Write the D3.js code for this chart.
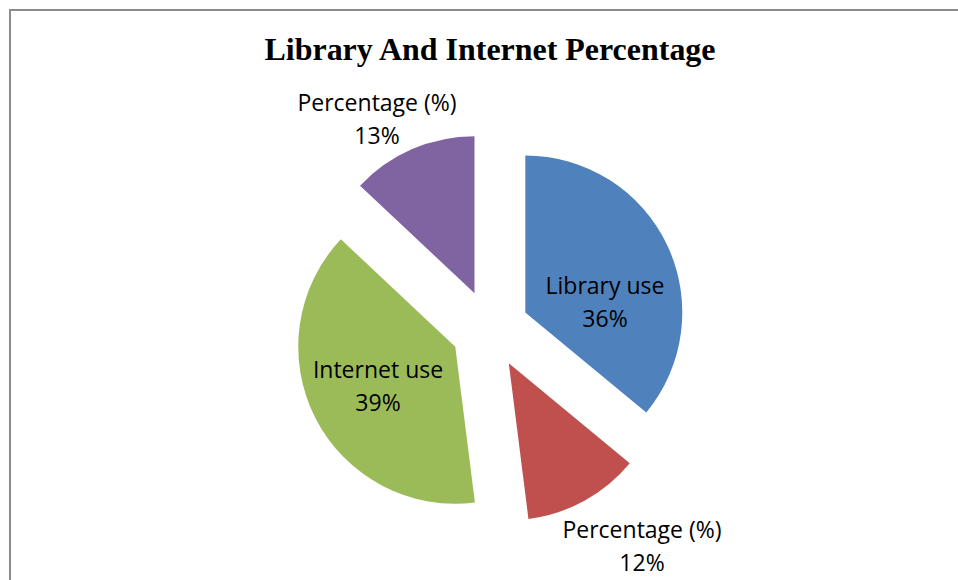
<!DOCTYPE html>
<html><head><meta charset="utf-8">
<script src="https://cdn.jsdelivr.net/npm/d3@7"></script>
<style>body{margin:0;background:#fff}svg{display:block}</style>
</head><body>
<svg id="c" width="958" height="580"></svg>
<script>
const categories = ["Library use", "Percentage (%)", "Internet use", "Percentage (%)"];
const values = [36, 12, 39, 13];
const colors = ["#4F81BD", "#C0504D", "#9BBB59", "#8064A2"];
const title = "Library And Internet Percentage";

const W = 958, H = 580;
const cx = 490, cy = 329, R = 157, explode = 39;
// label centre positions (layout, not data)
const labelPos = [[605, 294], [642, 538], [378, 378], [377, 111]];
const lineGap = 32.5;

const svg = d3.select("#c");
svg.append("rect").attr("x", 0).attr("y", 0).attr("width", W).attr("height", H).attr("fill", "#fff");
// frame
svg.append("path").attr("d", `M10,${H} L10,10 L${W},10`).attr("fill", "none").attr("stroke", "#8c8c8c").attr("stroke-width", 2);

svg.append("text").attr("x", 490).attr("y", 60).attr("text-anchor", "middle")
  .attr("font-family", "Liberation Serif, Times New Roman, serif").attr("font-weight", "bold")
  .attr("font-size", 32).attr("textLength", 451).attr("lengthAdjust", "spacingAndGlyphs").text(title);

const pie = d3.pie().sort(null).value(d => d)(values);
const arc = d3.arc().innerRadius(0).outerRadius(R);
const g = svg.append("g").attr("transform", `translate(${cx},${cy})`);
g.selectAll("path").data(pie).join("path")
  .attr("d", arc)
  .attr("fill", (d, i) => colors[i])
  .attr("transform", d => {
    const a = (d.startAngle + d.endAngle) / 2;
    return `translate(${explode * Math.sin(a)},${-explode * Math.cos(a)})`;
  });

const fmt = d3.format(".0f");
const lbl = svg.append("g").attr("font-family", "Open Sans, Noto Sans, sans-serif").attr("font-size", 23).attr("fill", "#000").attr("text-anchor", "middle");
pie.forEach((d, i) => {
  const [x, y] = labelPos[i];
  lbl.append("text").attr("x", x).attr("y", y).text(categories[i]);
  lbl.append("text").attr("x", x).attr("y", y + lineGap).text(fmt(values[i]) + "%");
});
</script>
</body></html>
